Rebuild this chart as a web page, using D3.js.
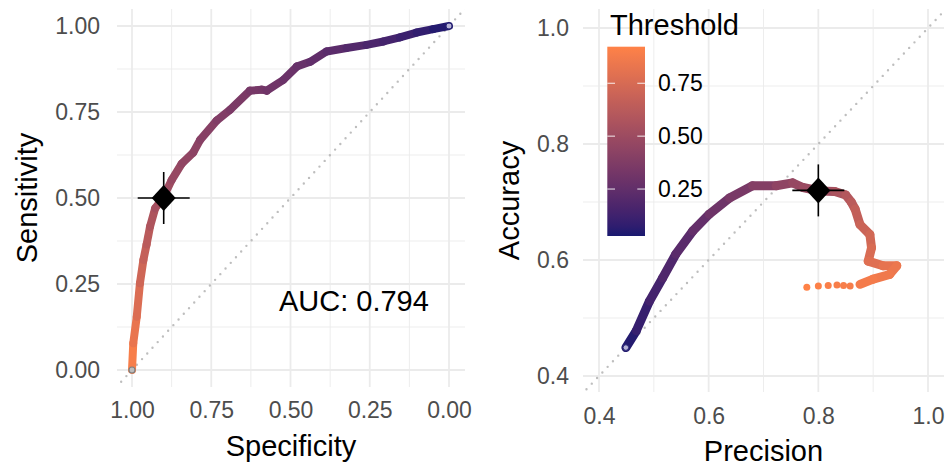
<!DOCTYPE html>
<html>
<head>
<meta charset="utf-8">
<script src="https://cdn.jsdelivr.net/npm/d3@7"></script>
<style>
  body { margin: 0; background: #fff; }
  text { font-family: "Liberation Sans", Arial, sans-serif; }
</style>
</head>
<body>
<div id="chart"></div>
<script>
// ROC curve (left panel)
const rocSpec = [1.000, 0.996, 0.985, 0.975, 0.964, 0.954, 0.943, 0.927, 0.901, 0.875, 0.843, 0.807, 0.785, 0.733, 0.691, 0.628, 0.590, 0.575, 0.523, 0.480, 0.438, 0.386, 0.323, 0.260, 0.207, 0.155, 0.102, 0.050, 0.000]
const rocSens = [0.000, 0.078, 0.155, 0.252, 0.320, 0.365, 0.417, 0.470, 0.502, 0.552, 0.600, 0.632, 0.669, 0.725, 0.756, 0.812, 0.815, 0.812, 0.843, 0.882, 0.896, 0.926, 0.936, 0.945, 0.955, 0.967, 0.981, 0.991, 1.000]
const rocThr = [0.92, 0.86, 0.80, 0.74, 0.69, 0.65, 0.60, 0.55, 0.52, 0.49, 0.46, 0.44, 0.42, 0.39, 0.37, 0.34, 0.33, 0.32, 0.30, 0.28, 0.26, 0.24, 0.21, 0.18, 0.16, 0.13, 0.10, 0.07, 0.03]

// precision / accuracy curve (right panel)
const paPrec = [0.449, 0.468, 0.492, 0.516, 0.540, 0.571, 0.601, 0.638, 0.680, 0.723, 0.753, 0.772, 0.802, 0.830, 0.850, 0.860, 0.867, 0.876, 0.894, 0.897, 0.891, 0.918, 0.943, 0.930, 0.900, 0.876]
const paAcc = [0.449, 0.478, 0.529, 0.569, 0.610, 0.650, 0.679, 0.707, 0.728, 0.728, 0.733, 0.725, 0.719, 0.718, 0.712, 0.700, 0.688, 0.661, 0.644, 0.621, 0.598, 0.590, 0.590, 0.575, 0.567, 0.558]
const paThr = [0.03, 0.07, 0.12, 0.16, 0.20, 0.24, 0.28, 0.32, 0.37, 0.42, 0.46, 0.48, 0.50, 0.54, 0.58, 0.61, 0.64, 0.68, 0.71, 0.74, 0.77, 0.80, 0.83, 0.85, 0.87, 0.88]
// sparse points at the highest thresholds
const tailPrec = [0.858, 0.846, 0.834, 0.818, 0.800, 0.779]
const tailAcc = [0.555, 0.556, 0.557, 0.556, 0.555, 0.553]
const tailThr = [0.885, 0.89, 0.895, 0.90, 0.91, 0.923]

// chosen threshold (0.5)
const bestRoc = { spec: 0.90, sens: 0.50 }
const bestPa = { prec: 0.80, acc: 0.72 }
const aucLabel = 'AUC: 0.794'

const rocTicks = [1, 0.75, 0.5, 0.25, 0]
const rocMinor = [0.875, 0.625, 0.375, 0.125]
const paTicks = [0.4, 0.6, 0.8, 1.0]
const paMinor = [0.5, 0.7, 0.9]
const legendTicks = [0.25, 0.5, 0.75]
const thrRange = [0.028, 0.923]

const svg = d3.select('#chart').append('svg').attr('width', 951).attr('height', 465)

const color = d3.scaleLinear().domain(thrRange).range(['#191970', '#FF8247']).interpolate(d3.interpolateLab)

const grid = '#EBEBEB'
const tickCol = '#4D4D4D'

function panel(opts) {
  const { x, y, box, ticksX, ticksY, minorX, minorY, id } = opts
  const g = svg.append('g')
  g.append('clipPath').attr('id', id).append('rect')
    .attr('x', box.l).attr('y', box.t).attr('width', box.r - box.l).attr('height', box.b - box.t)
  // minor grid
  g.selectAll('.mx').data(minorX).join('line')
    .attr('x1', d => x(d)).attr('x2', d => x(d)).attr('y1', box.t).attr('y2', box.b)
    .attr('stroke', grid).attr('stroke-width', 0.9)
  g.selectAll('.my').data(minorY).join('line')
    .attr('y1', d => y(d)).attr('y2', d => y(d)).attr('x1', box.l).attr('x2', box.r)
    .attr('stroke', grid).attr('stroke-width', 0.9)
  // major grid
  g.selectAll('.gx').data(ticksX).join('line')
    .attr('x1', d => x(d)).attr('x2', d => x(d)).attr('y1', box.t).attr('y2', box.b)
    .attr('stroke', grid).attr('stroke-width', 1.8)
  g.selectAll('.gy').data(ticksY).join('line')
    .attr('y1', d => y(d)).attr('y2', d => y(d)).attr('x1', box.l).attr('x2', box.r)
    .attr('stroke', grid).attr('stroke-width', 1.8)
  // axes
  const ax = g.append('g').attr('transform', `translate(0,${box.b})`)
    .call(d3.axisBottom(x).tickValues(ticksX).tickFormat(opts.fmt).tickSize(0).tickPadding(opts.padX))
  const ay = g.append('g').attr('transform', `translate(${box.l},0)`)
    .call(d3.axisLeft(y).tickValues(ticksY).tickFormat(opts.fmt).tickSize(0).tickPadding(opts.padY))
  ;[ax, ay].forEach(a => {
    a.select('.domain').remove()
    a.selectAll('text').attr('fill', tickCol).style('font-size', '23px')
      .style('font-family', '"Liberation Sans", Arial, sans-serif')
  })
  return g
}

// ---------- left: ROC ----------
const lx = d3.scaleLinear().domain([1, 0]).range([132, 449])
const ly = d3.scaleLinear().domain([0, 1]).range([370, 26])
const lbox = { l: 117, r: 465, t: 9, b: 387 }
const gl = panel({ x: lx, y: ly, box: lbox, ticksX: rocTicks, ticksY: rocTicks, minorX: rocMinor, minorY: rocMinor,
  id: 'clipL', fmt: d3.format('.2f'), padX: 15, padY: 17 })

gl.append('line').attr('clip-path', 'url(#clipL)')
  .attr('x1', lx(1.1)).attr('y1', ly(-0.1)).attr('x2', lx(-0.1)).attr('y2', ly(1.1))
  .attr('stroke', '#BEBEBE').attr('stroke-width', 2.4).attr('stroke-linecap', 'round').attr('stroke-dasharray', '0 7.7')

const rocPts = rocSpec.map((s, i) => ({ x: lx(s), y: ly(rocSens[i]), t: rocThr[i] }))
gl.selectAll('.rseg').data(d3.pairs(rocPts)).join('line')
  .attr('x1', d => d[0].x).attr('y1', d => d[0].y).attr('x2', d => d[1].x).attr('y2', d => d[1].y)
  .attr('stroke', d => color((d[0].t + d[1].t) / 2)).attr('stroke-width', 8).attr('stroke-linecap', 'round')

gl.append('circle').attr('cx', lx(1)).attr('cy', ly(0)).attr('r', 3)
  .attr('fill', '#BDBDBD').attr('stroke', '#7F7F7F').attr('stroke-width', 1.2)
gl.append('circle').attr('cx', lx(0)).attr('cy', ly(1)).attr('r', 3)
  .attr('fill', '#B7B3D6').attr('stroke', '#2a2878').attr('stroke-width', 1)

function marker(g, cx, cy) {
  g.append('path').attr('d', `M${cx},${cy - 13}L${cx + 12},${cy}L${cx},${cy + 13}L${cx - 12},${cy}Z`).attr('fill', '#000')
  g.append('line').attr('x1', cx - 26).attr('x2', cx + 26).attr('y1', cy).attr('y2', cy).attr('stroke', '#000').attr('stroke-width', 1.6)
  g.append('line').attr('y1', cy - 26).attr('y2', cy + 26).attr('x1', cx).attr('x2', cx).attr('stroke', '#000').attr('stroke-width', 1.6)
}
marker(gl, lx(bestRoc.spec), ly(bestRoc.sens))

gl.append('text').attr('x', lx(0.3)).attr('y', ly(0.2)).attr('text-anchor', 'middle').attr('dominant-baseline', 'central')
  .style('font-size', '29px').attr('fill', '#000').text(aucLabel)

svg.append('text').attr('x', (lbox.l + lbox.r) / 2).attr('y', 456).attr('text-anchor', 'middle')
  .style('font-size', '29px').text('Specificity')
svg.append('text').attr('transform', `translate(36.5,${(lbox.t + lbox.b) / 2}) rotate(-90)`).attr('text-anchor', 'middle')
  .style('font-size', '29px').text('Sensitivity')

// ---------- right: precision vs accuracy ----------
const rx = d3.scaleLinear().domain([0.4, 1.0]).range([599, 928])
const ry = d3.scaleLinear().domain([0.4, 1.0]).range([376, 28])
const rbox = { l: 583, r: 944, t: 9, b: 392 }
const gr = panel({ x: rx, y: ry, box: rbox, ticksX: paTicks, ticksY: paTicks, minorX: paMinor, minorY: paMinor,
  id: 'clipR', fmt: d3.format('.1f'), padX: 16, padY: 14 })

gr.append('line').attr('clip-path', 'url(#clipR)')
  .attr('x1', rx(0.3)).attr('y1', ry(0.3)).attr('x2', rx(1.1)).attr('y2', ry(1.1))
  .attr('stroke', '#BEBEBE').attr('stroke-width', 2.4).attr('stroke-linecap', 'round').attr('stroke-dasharray', '0 7.7')

const paPts = paPrec.map((p, i) => ({ x: rx(p), y: ry(paAcc[i]), t: paThr[i] }))
gr.selectAll('.pseg').data(d3.pairs(paPts)).join('line')
  .attr('x1', d => d[0].x).attr('y1', d => d[0].y).attr('x2', d => d[1].x).attr('y2', d => d[1].y)
  .attr('stroke', d => color((d[0].t + d[1].t) / 2)).attr('stroke-width', 9).attr('stroke-linecap', 'round')

gr.selectAll('.tail').data(tailPrec).join('circle')
  .attr('cx', d => rx(d)).attr('cy', (d, i) => ry(tailAcc[i])).attr('r', 3.5)
  .attr('fill', (d, i) => color(tailThr[i]))

gr.append('circle').attr('cx', rx(paPrec[0])).attr('cy', ry(paAcc[0])).attr('r', 2.8)
  .attr('fill', '#B7B3D6').attr('stroke', '#2a2878').attr('stroke-width', 1)

marker(gr, rx(bestPa.prec), ry(bestPa.acc))

svg.append('text').attr('x', (rbox.l + rbox.r) / 2).attr('y', 460.5).attr('text-anchor', 'middle')
  .style('font-size', '29px').text('Precision')
svg.append('text').attr('transform', `translate(518.5,${(rbox.t + rbox.b) / 2}) rotate(-90)`).attr('text-anchor', 'middle')
  .style('font-size', '29px').text('Accuracy')

// ---------- legend ----------
const legY = d3.scaleLinear().domain(thrRange).range([236, 46.7])
const grad = svg.append('defs').append('linearGradient').attr('id', 'thrGrad')
  .attr('x1', 0).attr('x2', 0).attr('y1', 1).attr('y2', 0)
d3.range(0, 1.0001, 0.05).forEach(f => {
  grad.append('stop').attr('offset', f).attr('stop-color', color(thrRange[0] + f * (thrRange[1] - thrRange[0])))
})
const leg = svg.append('g')
leg.append('text').attr('x', 610).attr('y', 35).style('font-size', '29px').text('Threshold')
leg.append('rect').attr('x', 607.3).attr('y', legY(thrRange[1])).attr('width', 37.7)
  .attr('height', legY(thrRange[0]) - legY(thrRange[1])).attr('fill', 'url(#thrGrad)')
legendTicks.forEach(t => {
  leg.append('line').attr('x1', 607.3).attr('x2', 615).attr('y1', legY(t)).attr('y2', legY(t))
    .attr('stroke', '#fff').attr('stroke-opacity', 0.75).attr('stroke-width', 1.2)
  leg.append('line').attr('x1', 637.3).attr('x2', 645).attr('y1', legY(t)).attr('y2', legY(t))
    .attr('stroke', '#fff').attr('stroke-opacity', 0.75).attr('stroke-width', 1.2)
  leg.append('text').attr('x', 658).attr('y', legY(t)).attr('dominant-baseline', 'central')
    .style('font-size', '23px').attr('fill', '#000').text(d3.format('.2f')(t))
})
</script>
</body>
</html>
